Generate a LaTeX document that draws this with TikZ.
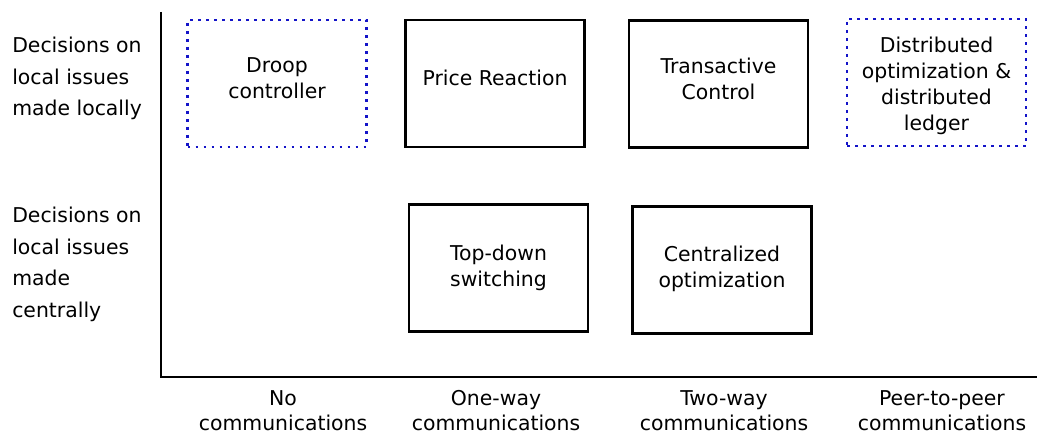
\documentclass[tikz,border=0pt]{standalone}
\usepackage{fontspec}
\setmainfont{DejaVu Sans}
\definecolor{dotblue}{RGB}{20,20,200}
\begin{document}
\begin{tikzpicture}[x=0.75pt,y=-0.75pt,
  boxbase/.style={rectangle,inner sep=0pt,
    minimum width=134.25pt,minimum height=95.25pt},
  boxtext/.style={inner sep=0pt,align=center,
    font=\fontsize{15.3}{19.3}\selectfont},
  solidbox/.style={boxbase,draw=black,line width=1.9pt},
  dotbox/.style={boxbase,draw=dotblue,line width=1.7pt,dash pattern=on 2.2pt off 3.8pt},
  sidelabel/.style={anchor=north west,inner sep=0pt,align=left,
    font=\fontsize{15.3}{23.75}\selectfont},
  bottomlabel/.style={anchor=north,inner sep=0pt,align=center,
    font=\fontsize{15.3}{18.75}\selectfont},
  axisline/.style={draw=black,line width=1.5pt}]
\path[use as bounding box] (0,0) rectangle (1037,434);

% axes
\coordinate (axtop) at (161,12);
\coordinate (axcorner) at (161,377);
\coordinate (axright) at (1037,377);
\draw[axisline] (axtop) -- (axcorner) -- (axright);

% row labels
\node[sidelabel] (rowlocal) at (12,36.6) {Decisions on\\local issues\\made locally};
\node[sidelabel] (rowcentral) at (12,206.6) {Decisions on\\local issues\\made\\centrally};

% column labels
\node[bottomlabel] (colnone) at (283,390) {No\\communications};
\node[bottomlabel] (colone) at (496,390) {One-way\\communications};
\node[bottomlabel] (coltwo) at (724,390) {Two-way\\communications};
\node[bottomlabel] (colpeer) at (942,390) {Peer-to-peer\\communications};

% boxes (text placed as centre labels so it can sit slightly off-centre as in the reference)
\node[dotbox, label={[boxtext,yshift=3.75pt]center:{Droop\\controller}}] (droop) at (277,83.5) {};
\node[solidbox, label={[boxtext,yshift=4.5pt]center:{Price Reaction}}] (price) at (495,83.5) {};
\node[solidbox, label={[boxtext,yshift=4.1pt]center:{Transactive\\Control}}] (trans) at (718.5,84) {};
\node[dotbox, label={[boxtext,yshift=-2.6pt]center:{Distributed\\optimization \&\\distributed\\ledger}}] (dist) at (936.5,82.5) {};
\node[solidbox, label={[boxtext]center:{Top-down\\switching}}] (topdown) at (498.5,268) {};
\node[solidbox, label={[boxtext,yshift=0.8pt]center:{Centralized\\optimization}}] (central) at (722,270) {};
\end{tikzpicture}
\end{document}
